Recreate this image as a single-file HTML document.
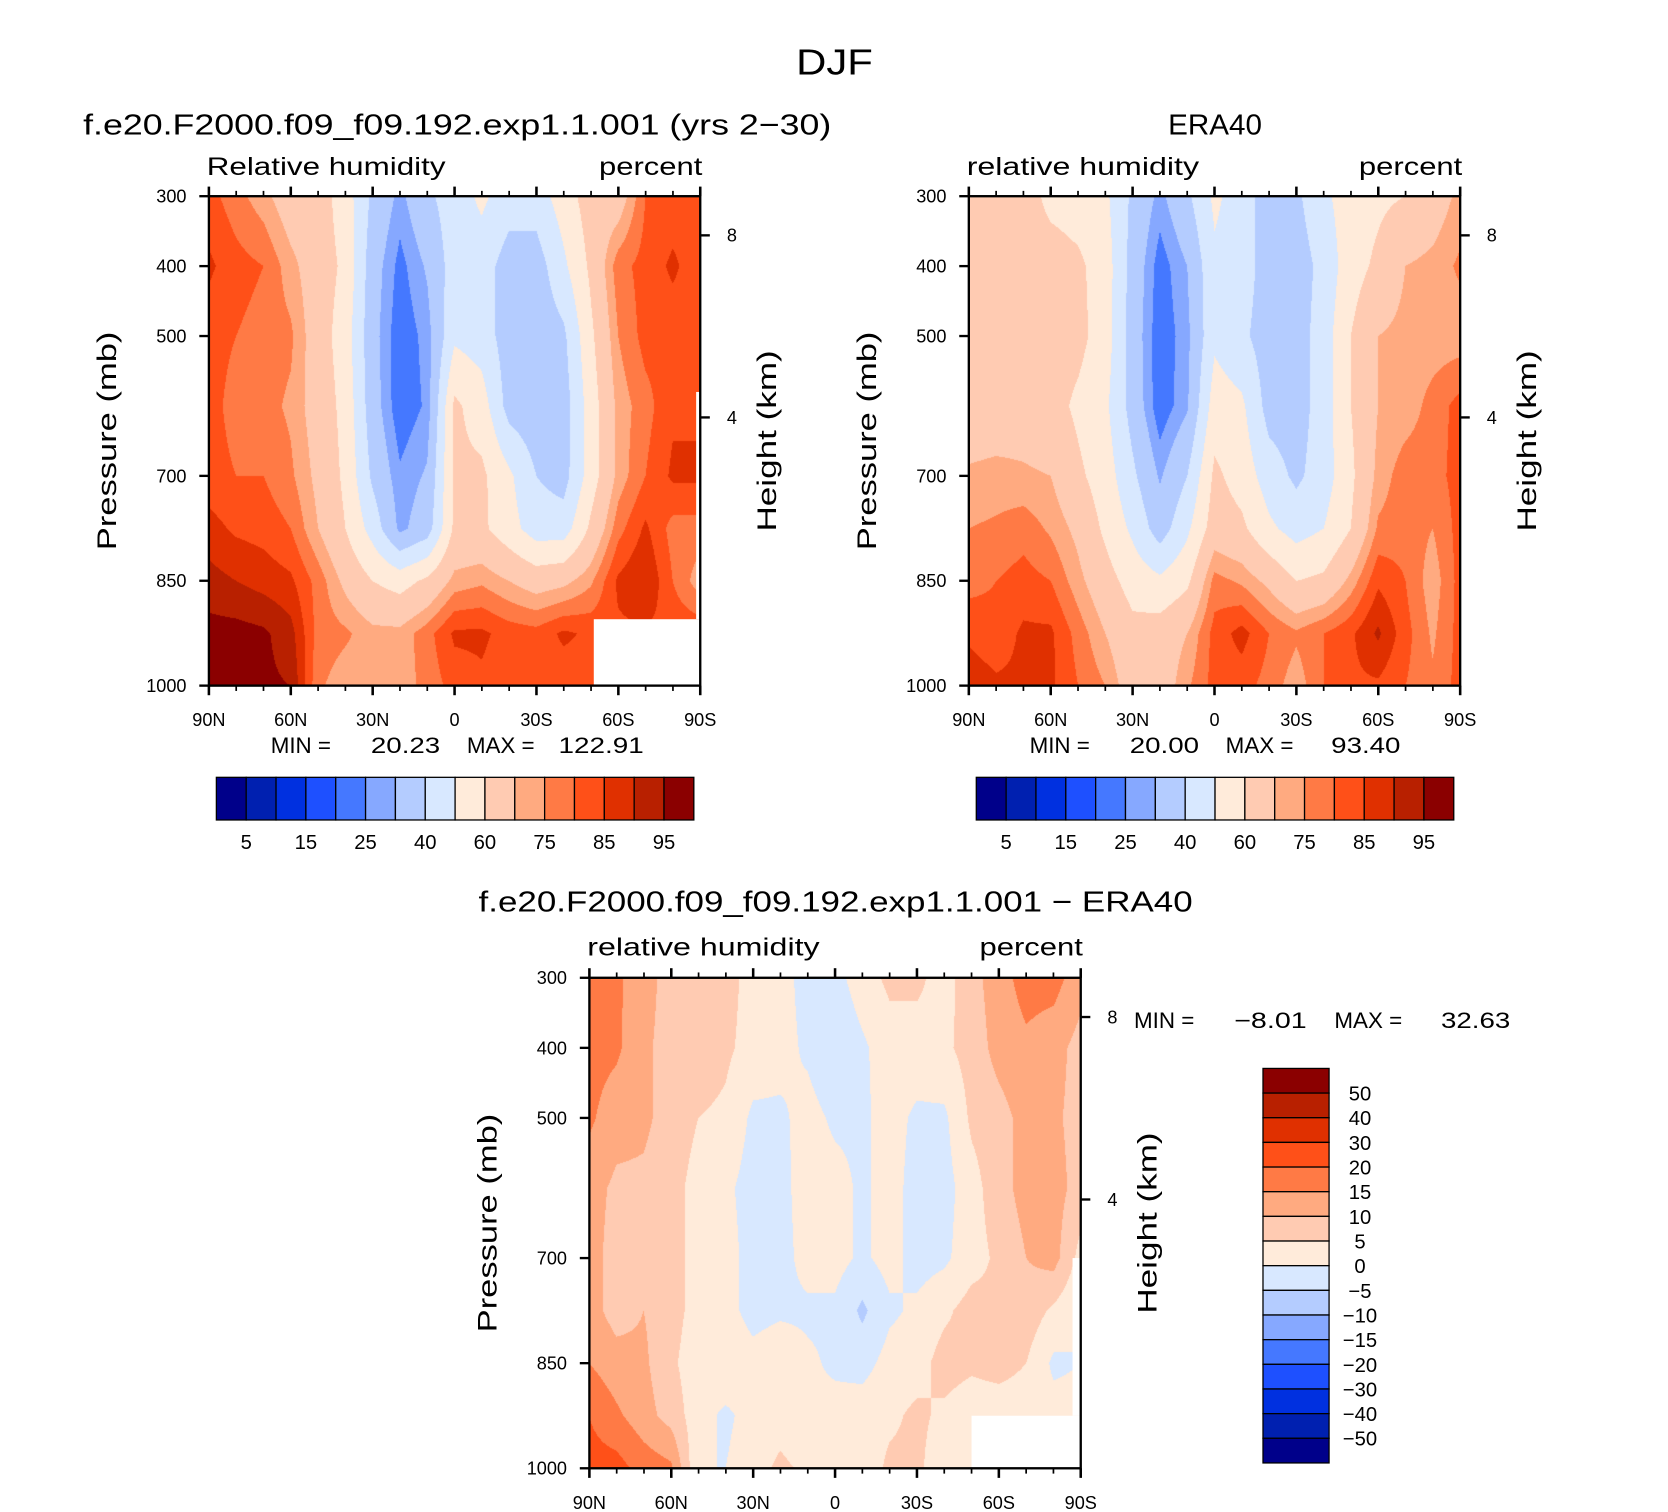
<!DOCTYPE html>
<html><head><meta charset="utf-8">
<style>
html,body{margin:0;padding:0;background:#fff;}
#wrap{position:relative;width:1668px;height:1512px;overflow:hidden;background:#fff;}
canvas{position:absolute;}
svg{position:absolute;left:0;top:0;}
text{font-family:"Liberation Sans",sans-serif;fill:#000;white-space:pre;}
</style></head>
<body>
<div id="wrap">
<canvas id="c1"></canvas>
<canvas id="c2"></canvas>
<canvas id="c3"></canvas>
<svg id="ov" width="1668" height="1512" viewBox="0 0 1565 1418" preserveAspectRatio="none" xml:space="preserve"></svg>
</div>
<script>
// ---- data ----
const lats = [90,80,70,60,50,40,30,20,10,0,-10,-20,-30,-40,-50,-60,-70,-80,-90];
const pressures = [300,400,500,600,700,775,850,925,1000];
const rhLevels = [5,10,15,20,25,30,40,50,60,70,75,80,85,90,95];
const diffLevels = [-50,-40,-30,-20,-15,-10,-5,0,5,10,15,20,30,40,50];
const rhLabels = ["5","15","25","40","60","75","85","95"];
const diffLabels = ["50","40","30","20","15","10","5","0","−5","−10","−15","−20","−30","−40","−50"];
const palette = ["#00008a","#0020b0","#0030e0","#1e50ff","#4578ff","#86a8ff","#b4ccff","#d8e8ff","#ffebda","#ffcbb2","#ffaa80","#ff7a45","#ff5018","#e03000","#b82000","#8b0000"];
const xTickLats = [90,60,30,0,-30,-60,-90];
const xTickLabels = ["90N","60N","30N","0","30S","60S","90S"];
const pTicks = [300,400,500,700,850,1000];
const hTicks = [8,4];
const modelRH = [
 [82,77,72,65,65,55,38,28,38,45,52,45,45,55,65,65,80,82,82],
 [86,82,80,72,65,58,34,23,31,45,45,35,35,48,62,78,82,86,82],
 [82,80,78,76,65,55,33,21,27,48,45,35,33,38,58,75,82,82,82],
 [82,78,77,74,66,57,34,21,26,62,55,36,33,35,55,72,78,84,84],
 [82,80,80,76,68,58,38,26,31,62,62,52,40,36,55,72,80,86,86],
 [87,84,83,80,70,60,46,28,35,62,62,54,45,45,62,78,86,78,78],
 [92,90,88,86,78,68,60,56,62,72,74,70,66,68,74,86,90,80,72],
 [97,97,96,92,78,76,72,72,78,86,86,83,82,86,84,84,84,84,84],
 [97,97,96,95,76,72,72,72,77,82,84,82,82,82,82,82,82,82,82]
];
const eraRH = [
 [65,65,65,57,55,52,38,28,38,52,45,35,38,48,55,58,60,65,72],
 [65,65,65,65,62,55,36,22,30,48,45,35,35,43,56,62,70,72,76],
 [65,65,65,65,63,55,35,21,28,48,42,35,35,45,60,70,72,72,72],
 [65,65,66,64,58,52,36,21,29,55,52,36,35,45,60,70,72,77,82],
 [71,72,71,70,62,55,42,29,40,62,56,45,38,45,58,72,78,78,82],
 [75,76,78,74,68,58,48,35,48,65,62,52,46,50,60,76,78,75,82],
 [78,80,82,80,72,64,56,52,58,77,74,68,60,62,72,84,80,72,82],
 [84,82,86,86,78,70,63,65,70,82,87,80,76,80,84,91,82,74,82],
 [88,86,86,86,80,75,65,65,74,82,82,78,72,80,84,84,80,76,82]
];
const diffRH = [
 [20,16,12,8,8,7,3,2,-2,-2,3,6,6,3,8,13,17,17,12],
 [17,16,11,8,8,6,3,2,-1,-5,-1,3,3,4,7,12,14,12,8],
 [16,12,11,8,5,4,-1,-1,2,-1,-1,2,-1,-1,6,8,12,11,8],
 [12,9,9,7,3,1,-2,-2,3,2,-1,2,-2,-2,3,8,12,12,8],
 [12,8,9,7,3,2,-2,-2,2,2,-1,2,-2,-1,3,6,10,12,3],
 [12,8,10,7,3,2,-2,-1,-1,-1,-6,-1,1,4,7,6,8,4,0],
 [15,12,11,6,2,4,2,4,1,-1,-2,2,3,7,6,7,5,-1,0],
 [20,16,12,8,2,-1,2,3,1,2,3,4,6,4,2,2,2,2,2],
 [22,22,18,16,0,0,3,6,4,2,2,6,6,2,2,2,2,2,2]
];
// ---- layout (viewBox units) ----
const SX = 1668/1565, SY = 1512/1418;
const NS = "http://www.w3.org/2000/svg";
const ov = document.getElementById('ov');
function el(tag, attrs, txt){const e=document.createElementNS(NS,tag);for(const k in attrs)e.setAttribute(k,attrs[k]);if(txt!==undefined)e.textContent=txt;ov.appendChild(e);return e;}
function colorFor(v, levels){let i=0;while(i<levels.length&&v>=levels[i])i++;return palette[i];}
function sample(field,lat,p){
  let ci=0;while(ci<lats.length-2&&lat<lats[ci+1])ci++;
  const tx=(lats[ci]-lat)/(lats[ci]-lats[ci+1]);
  let ri=0;while(ri<pressures.length-2&&p>pressures[ri+1])ri++;
  const ty=(p-pressures[ri])/(pressures[ri+1]-pressures[ri]);
  const a=field[ri][ci],b=field[ri][ci+1],c=field[ri+1][ci],d=field[ri+1][ci+1];
  return a*(1-tx)*(1-ty)+b*tx*(1-ty)+c*(1-tx)*ty+d*tx*ty;
}
function drawField(id, field, levels, box){
  const cv=document.getElementById(id);
  const L=Math.round(box.x*SX), T=Math.round(box.y*SY);
  const W=Math.round((box.x+box.w)*SX)-L, H=Math.round((box.y+box.h)*SY)-T;
  cv.width=W;cv.height=H;cv.style.left=L+'px';cv.style.top=T+'px';
  const ctx=cv.getContext('2d');const img=ctx.createImageData(W,H);
  const cache={};
  for(let j=0;j<H;j++){const p=300+(j+0.5)/H*700;
    for(let i=0;i<W;i++){const lat=90-(i+0.5)/W*180;
      const col=colorFor(sample(field,lat,p),levels);
      let rgb=cache[col];if(!rgb){rgb=[parseInt(col.slice(1,3),16),parseInt(col.slice(3,5),16),parseInt(col.slice(5,7),16)];cache[col]=rgb;}
      const k=(j*W+i)*4;img.data[k]=rgb[0];img.data[k+1]=rgb[1];img.data[k+2]=rgb[2];img.data[k+3]=255;}}
  ctx.putImageData(img,0,0);
}
function xOf(box,lat){return box.x+(90-lat)/180*box.w;}
function yOf(box,p){return box.y+(p-300)/700*box.h;}
function hY(box,h){const p=1013.25*Math.pow(1-h/44.3308,5.2559);return yOf(box,p);}
function axes(box, prefix, masks){
  masks.forEach((m,mi)=>{const r=el('rect',{x:xOf(box,m[0]),y:yOf(box,m[2]),width:xOf(box,m[1])-xOf(box,m[0]),height:yOf(box,m[3])-yOf(box,m[2]),fill:'#fff'});
    
    });
  const fr=el('rect',{x:box.x,y:box.y,width:box.w,height:box.h,fill:'none',stroke:'#000','stroke-width':2.2});
  
  
  for(let lat=90;lat>=-90;lat-=10){const x=xOf(box,lat);const major=lat%30===0;const len=major?9:5;
    el('line',{x1:x,y1:box.y,x2:x,y2:box.y-len,stroke:'#000','stroke-width':major?2.4:1.6});
    el('line',{x1:x,y1:box.y+box.h,x2:x,y2:box.y+box.h+len,stroke:'#000','stroke-width':major?2.4:1.6});}
  xTickLabels.forEach((lab,i)=>{const t=el('text',{x:xOf(box,xTickLats[i]),y:box.y+box.h+38,'font-size':17,'text-anchor':'middle'},lab);
    
    });
  pTicks.forEach(p=>{const y=yOf(box,p);el('line',{x1:box.x,y1:y,x2:box.x-9,y2:y,stroke:'#000','stroke-width':2.2});
    const t=el('text',{x:box.x-21,y:y+6,'font-size':17,'text-anchor':'end'},String(p));
    
    });
  hTicks.forEach(h=>{const y=hY(box,h);el('line',{x1:box.x+box.w,y1:y,x2:box.x+box.w+9,y2:y,stroke:'#000','stroke-width':2.2});
    const t=el('text',{x:box.x+box.w+25,y:y+6,'font-size':17,'text-anchor':'start'},String(h));
    
    });
  const cy=box.y+box.h/2;
  const pt=el('text',{x:0,y:0,'font-size':25,'text-anchor':'middle',transform:`translate(${box.x-87},${cy}) rotate(-90)`,textLength:205,lengthAdjust:'spacingAndGlyphs'},'Pressure (mb)');
  
  
  const ht=el('text',{x:0,y:0,'font-size':25,'text-anchor':'middle',transform:`translate(${box.x+box.w+71},${cy}) rotate(-90)`,textLength:170,lengthAdjust:'spacingAndGlyphs'},'Height (km)');
  
  
}
function hColorbar(x,y,w,h,prefix){
  const n=palette.length,bw=w/n;
  palette.forEach((c,i)=>{const r=el('rect',{x:x+i*bw,y:y,width:bw,height:h,fill:c,stroke:'#000','stroke-width':1.2});
    
    });
  rhLabels.forEach((lab,i)=>{const t=el('text',{x:x+(2*i+1)*bw,y:y+h+27,'font-size':19,'text-anchor':'middle'},lab);
    
    });
}
const b1={x:196,y:184,w:461,h:459}, b2={x:909,y:184,w:461,h:459}, b3={x:553,y:917,w:461,h:460};
drawField('c1',modelRH,rhLevels,b1);
drawField('c2',eraRH,rhLevels,b2);
drawField('c3',diffRH,diffLevels,b3);
axes(b1,'model',[[-51,-90,905,1000],[-88.5,-90,580,905]]);
axes(b2,'era40',[]);
axes(b3,'difference',[[-50,-90,925,1000],[-87,-90,700,925]]);
function txt(x,y,size,s,name,anchor,len){const a={x:x,y:y,'font-size':size,'text-anchor':anchor||'start'};if(len){a.textLength=len;a.lengthAdjust='spacingAndGlyphs';}
  const t=el('text',a,s);return t;}
txt(783,70,34,'DJF','main-title','middle',72);
txt(78,126,27,'f.e20.F2000.f09_f09.192.exp1.1.001 (yrs 2−30)','model-title','start',702);
txt(1140,126,27,'ERA40','era40-title','middle',88);
txt(194,164,23,'Relative humidity','model-variable-label','start',224);
txt(659,164,23,'percent','model-units-label','end',97);
txt(907,164,23,'relative humidity','era40-variable-label','start',218);
txt(1372,164,23,'percent','era40-units-label','end',97);
txt(254,706,21,'MIN =','model-min-label','start');
txt(413,706,21,'20.23','model-min-value','end',65);
txt(438,706,21,'MAX =','model-max-label','start');
txt(604,706,21,'122.91','model-max-value','end',80);
txt(966,706,21,'MIN =','era40-min-label','start');
txt(1125,706,21,'20.00','era40-min-value','end',65);
txt(1150,706,21,'MAX =','era40-max-label','start');
txt(1314,706,21,'93.40','era40-max-value','end',65);
txt(784,855,27,'f.e20.F2000.f09_f09.192.exp1.1.001 − ERA40','difference-title','middle',670);
txt(551,896,23,'relative humidity','difference-variable-label','start',218);
txt(1016,896,23,'percent','difference-units-label','end',97);
txt(1064,964,21,'MIN =','difference-min-label','start');
txt(1226,964,21,'−8.01','difference-min-value','end',68);
txt(1252,964,21,'MAX =','difference-max-label','start');
txt(1417,964,21,'32.63','difference-max-value','end',65);
hColorbar(203,729,448,40,'model');
hColorbar(916,729,448,40,'era40');
(function(){const x=1185,y=1002,w=62,h=370,n=palette.length,bh=h/n;
  for(let i=0;i<n;i++){const r=el('rect',{x:x,y:y+i*bh,width:w,height:bh,fill:palette[n-1-i],stroke:'#000','stroke-width':1.2});
    
    }
  diffLabels.forEach((lab,i)=>{const t=el('text',{x:1276,y:y+(i+1)*bh+7,'font-size':19,'text-anchor':'middle'},lab);
    
    });
})();
</script>
</body></html>
